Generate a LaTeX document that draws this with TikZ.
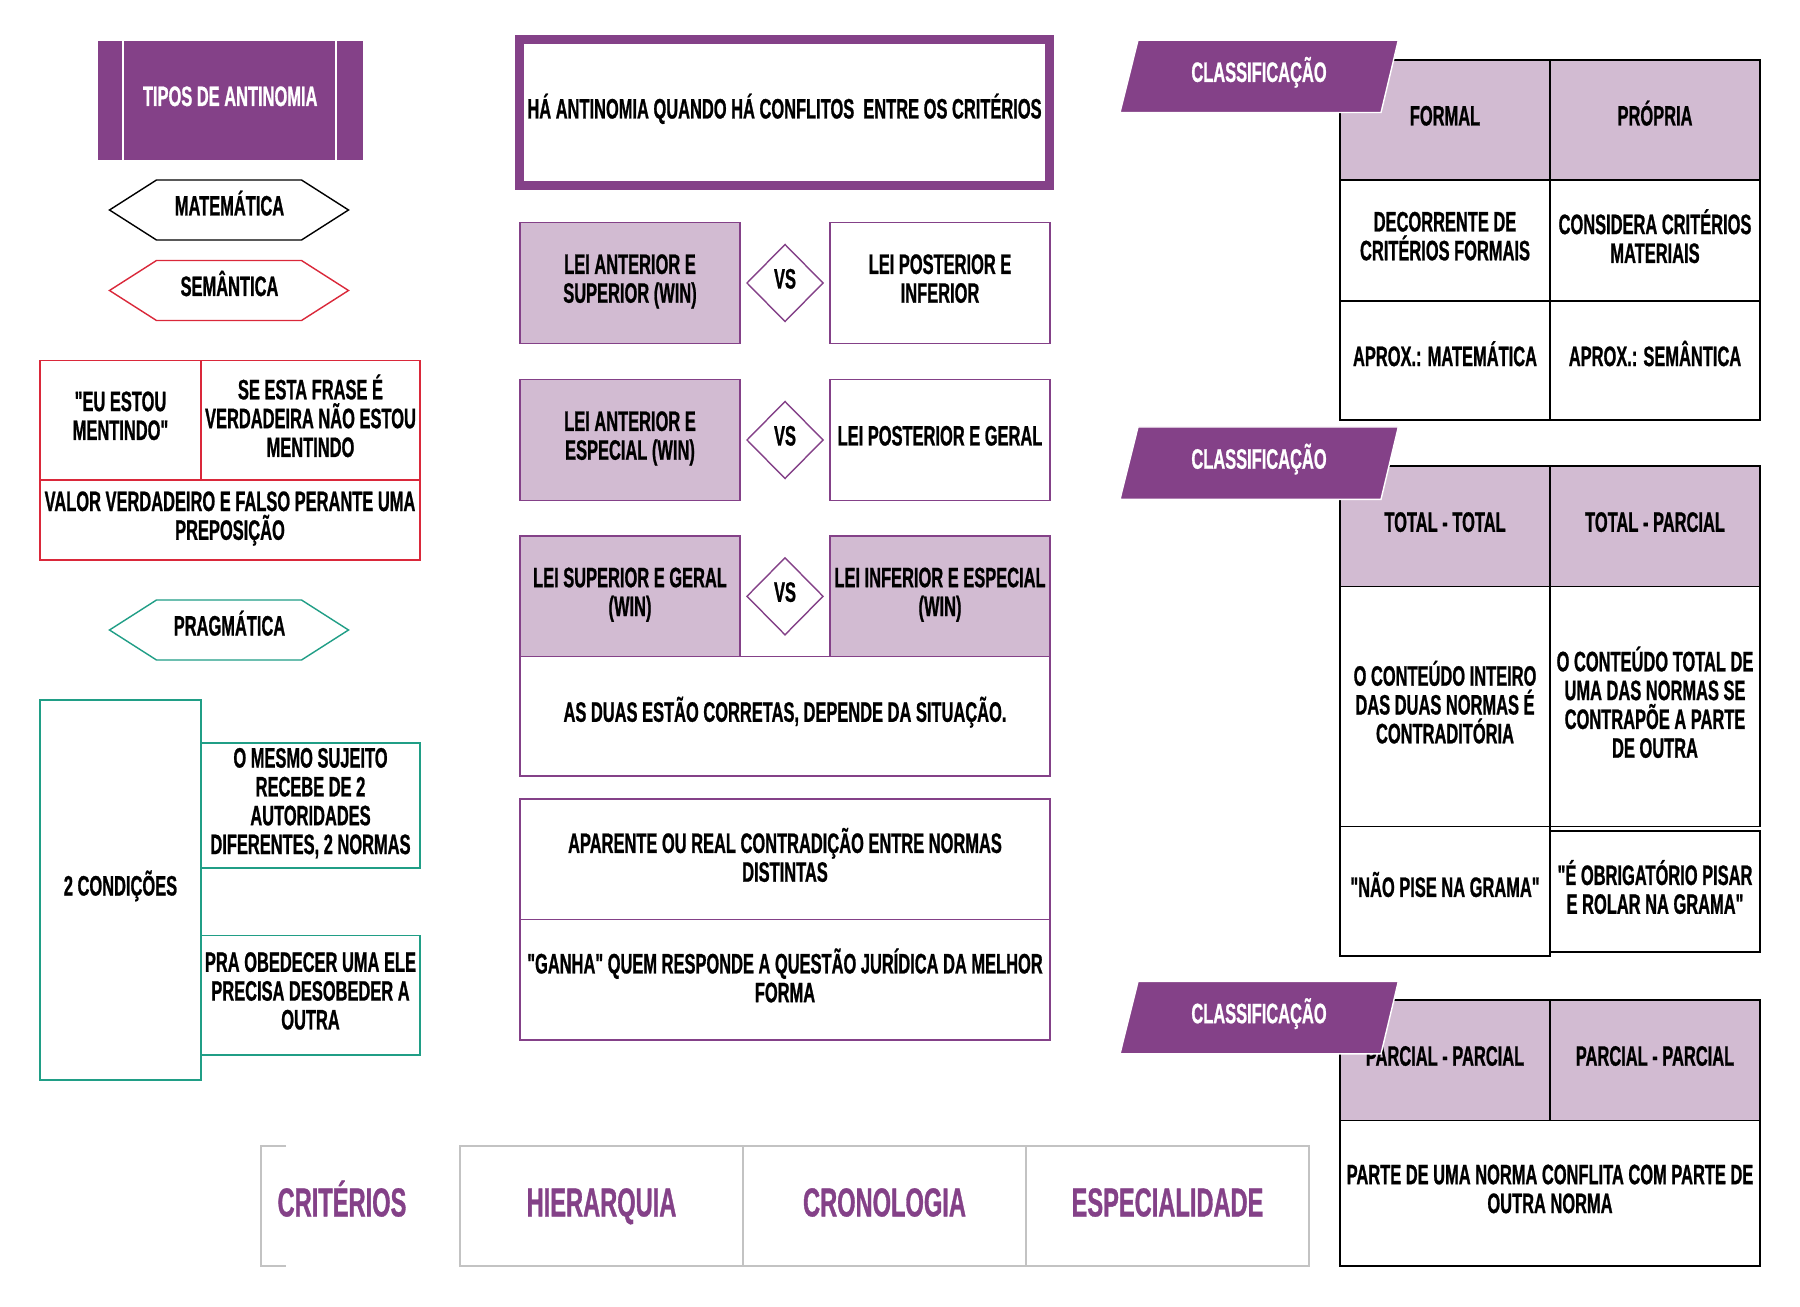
\documentclass[tikz,border=0pt]{standalone}
\usepackage{fontspec}
\setmainfont{Liberation Sans}[FakeStretch=0.585, Ligatures=TeXOff, BoldFeatures={FakeBold=0.8}]
\usepackage{xcolor}
\usepackage{tikz}
\usetikzlibrary{positioning,shapes.geometric}

\definecolor{roxo}{RGB}{132,65,136}
\definecolor{lilas}{RGB}{210,187,210}
\definecolor{vermelho}{RGB}{218,40,58}
\definecolor{verde}{RGB}{32,158,134}
\definecolor{cinza}{RGB}{195,195,195}

\begin{document}
\begin{tikzpicture}[x=0.1mm, y=-0.1mm,
                    txt/.style={font=\fontsize{8}{8.2}\selectfont\bfseries, align=center,
                                inner sep=0pt, outer sep=0pt,
                                execute at end node={\rule[-0.9mm]{0pt}{0pt}}},
                    uma/.style={text height=2mm, text depth=0.9mm},
                    cell/.style={txt, draw, line width=0.4pt},
                    lei/.style={cell, draw=roxo, minimum width=22mm, minimum height=12.06mm},
                    win/.style={lei, fill=lilas},
                    vs/.style={diamond, cell, uma, draw=roxo, fill=white,
                               minimum width=7.6mm, minimum height=7.7mm},
                    faixa/.style={cell, draw=roxo, minimum width=53mm},
                    tab/.style={cell, draw=black, line width=0.5pt, minimum width=21mm},
                    cab/.style={tab, uma, fill=lilas, minimum height=12.05mm},
                    rotulo/.style={txt, uma, text=white},
                    crit/.style={txt, text=roxo, font=\fontsize{11.5}{12}\selectfont\bfseries,
                                 text height=3.1mm, text depth=1mm},
                    critbox/.style={crit, draw=cinza, line width=0.6pt,
                                    minimum width=28.3mm, minimum height=12.03mm}]
  \path[use as bounding box, fill=white] (0,0) rectangle (1800,1307);

  % tipos
  \node[txt, uma, fill=roxo, text=white, minimum width=26.52mm, minimum height=11.83mm]
    (tipos) at (230.2,100.5) {TIPOS DE ANTINOMIA};
  \draw[white, line width=0.6pt] ([xshift=2.52mm]tipos.north west) -- ([xshift=2.52mm]tipos.south west);
  \draw[white, line width=0.6pt] ([xshift=-2.64mm]tipos.north east) -- ([xshift=-2.64mm]tipos.south east);

  \node[txt, uma] (mat) at (229.5,210) {MATEMÁTICA};
  \node[txt, uma] (sem) at (229.5,290.5) {SEMÂNTICA};
  \node[txt, uma] (prag) at (229.5,630) {PRAGMÁTICA};
  \foreach \n/\c in {mat/black, sem/vermelho, prag/verde}
    \draw[\c, line width=0.4pt] (\n.center) ++(-120,0) -- ++(47,-30) -- ++(145,0)
      -- ++(47,30) -- ++(-47,30) -- ++(-145,0) -- cycle;

  % semantica
  \node[cell, draw=vermelho, line width=0.5pt, minimum width=16.1mm, minimum height=11.95mm]
    (eu) at (120.5,420.2) {"EU ESTOU\\MENTINDO"};
  \node[cell, draw=vermelho, line width=0.5pt, minimum width=21.9mm, minimum height=11.95mm,
        anchor=north west] (frase) at (eu.north east) {SE ESTA FRASE É\\VERDADEIRA NÃO ESTOU\\MENTINDO};
  \node[cell, draw=vermelho, line width=0.5pt, minimum width=38mm, minimum height=8.03mm,
        anchor=north west] (valor) at (eu.south west) {VALOR VERDADEIRO E FALSO PERANTE UMA\\PREPOSIÇÃO};

  % pragmatica
  \node[cell, uma, draw=verde, minimum width=16.1mm, minimum height=38mm]
    (cond) at (120.5,890) {2 CONDIÇÕES};
  \node[cell, draw=verde, minimum width=21.9mm, minimum height=12.5mm, anchor=north west]
    (mesmo) at (201,743) {O MESMO SUJEITO\\RECEBE DE 2\\AUTORIDADES\\DIFERENTES, 2 NORMAS};
  \node[cell, draw=verde, minimum width=21.9mm, minimum height=11.94mm, anchor=north west]
    (obedecer) at (201,935.6) {PRA OBEDECER UMA ELE\\PRECISA DESOBEDER A\\OUTRA};

  % criterios em conflito
  \node[cell, uma, draw=roxo, line width=0.9mm, minimum width=53mm, minimum height=14.6mm]
    (conflito) at (784.5,113) {HÁ ANTINOMIA QUANDO HÁ CONFLITOS \ ENTRE OS CRITÉRIOS};

  \node[win] (antsup) at (630,283) {LEI ANTERIOR E\\SUPERIOR (WIN)};
  \node[vs] (vs1) at (785,283) {VS};
  \node[lei] (postinf) at (940,283) {LEI POSTERIOR E\\INFERIOR};

  \node[win] (antesp) at (630,440) {LEI ANTERIOR E\\ESPECIAL (WIN)};
  \node[vs] (vs2) at (785,440) {VS};
  \node[lei, uma] (postger) at (940,440) {LEI POSTERIOR E GERAL};

  \node[win] (supger) at (630,596.3) {LEI SUPERIOR E GERAL\\(WIN)};
  \node[vs] (vs3) at (785,596.3) {VS};
  \node[win] (infesp) at (940,596.3) {LEI INFERIOR E ESPECIAL\\(WIN)};
  \node[faixa, uma, minimum height=11.93mm, anchor=north west]
    (duas) at (supger.south west) {AS DUAS ESTÃO CORRETAS, DEPENDE DA SITUAÇÃO.};

  \node[faixa, minimum height=12.05mm] (aparente) at (785,859.3)
    {APARENTE OU REAL CONTRADIÇÃO ENTRE NORMAS\\DISTINTAS};
  \node[faixa, minimum height=12.05mm, below=0pt of aparente] (ganha)
    {"GANHA" QUEM RESPONDE A QUESTÃO JURÍDICA DA MELHOR\\FORMA};

  % classificacao 1
  \node[cab] (formal) at (1445,120) {FORMAL};
  \node[cab, right=0pt of formal] (propria) {PRÓPRIA};
  \node[tab, minimum height=12.06mm, below=0pt of formal] (decor) {DECORRENTE DE\\CRITÉRIOS FORMAIS};
  \node[tab, minimum height=12.06mm, below=0pt of propria] (consid) {CONSIDERA CRITÉRIOS\\MATERIAIS};
  \node[tab, uma, minimum height=11.94mm, below=0pt of decor] (aproxm) {APROX.: MATEMÁTICA};
  \node[tab, uma, minimum height=11.94mm, below=0pt of consid] (aproxs) {APROX.: SEMÂNTICA};

  % classificacao 2
  \node[cab] (tt) at (1445,526.3) {TOTAL - TOTAL};
  \node[cab, right=0pt of tt] (tp) {TOTAL - PARCIAL};
  \node[tab, minimum height=24mm, below=0pt of tt] (inteiro) {O CONTEÚDO INTEIRO\\DAS DUAS NORMAS É\\CONTRADITÓRIA};
  \node[tab, minimum height=24mm, below=0pt of tp] (totalde) {O CONTEÚDO TOTAL DE\\UMA DAS NORMAS SE\\CONTRAPÕE A PARTE\\DE OUTRA};
  \node[tab, uma, minimum height=12.97mm, below=0pt of inteiro] (pise) {"NÃO PISE NA GRAMA"};
  \node[tab, minimum height=12.07mm] (obrig) at (1655,891.4) {"É OBRIGATÓRIO PISAR\\E ROLAR NA GRAMA"};

  % classificacao 3
  \node[cab, minimum height=12.04mm] (pp1) at (1445,1060.2) {PARCIAL - PARCIAL};
  \node[cab, minimum height=12.04mm, right=0pt of pp1] (pp2) {PARCIAL - PARCIAL};
  \node[tab, minimum width=42mm, minimum height=14.58mm, anchor=north west]
    (parte) at (pp1.south west) {PARTE DE UMA NORMA CONFLITA COM PARTE DE\\OUTRA NORMA};

  \foreach \y [count=\i] in {40.2, 427, 981.5} {
    \draw[white, fill=roxo, line width=0.4pt] (1120,\y+72.3) -- (1138,\y) -- (1398.3,\y)
      -- (1381,\y+72.3) -- cycle;
    \node[rotulo] (classe\i) at (1259,\y+36.2) {CLASSIFICAÇÃO};
  }

  % criterios
  \node[crit] (criterios) at (342,1205.9) {CRITÉRIOS};
  \draw[cinza, line width=0.6pt] (286,1145.7) -- (260.6,1145.7) -- (260.6,1266) -- (286,1266);
  \node[critbox] (hier) at (601.5,1205.9) {HIERARQUIA};
  \node[critbox, right=0pt of hier] (crono) {CRONOLOGIA};
  \node[critbox, right=0pt of crono] (espec) {ESPECIALIDADE};
\end{tikzpicture}
\end{document}
